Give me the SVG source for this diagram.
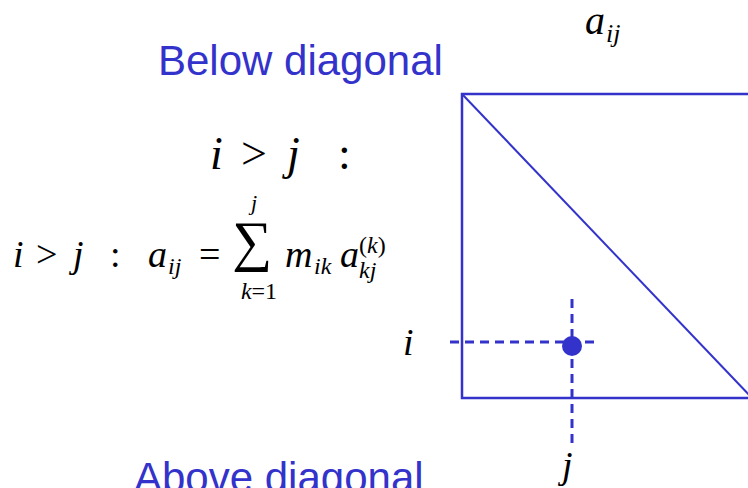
<svg xmlns="http://www.w3.org/2000/svg" width="748" height="488" viewBox="0 0 748 488">
<style>
.lbl{font-family:"Liberation Sans",Arial,sans-serif;font-size:42px;fill:#3333cc}
.m{font-family:"Liberation Serif","Times New Roman",serif;font-style:italic;fill:#000}
.r{font-family:"Liberation Serif","Times New Roman",serif;fill:#000}
.edge{stroke:#3333cc;fill:none}
.dash{stroke:#3333cc;stroke-width:3;stroke-dasharray:9,6;fill:none}
</style>
<rect width="748" height="488" fill="#fff"/>
<g id="title-below"><text class="lbl" x="158" y="75">Below diagonal</text></g>
<g id="title-above"><text class="lbl" x="134" y="492">Above diagonal</text></g>
<g id="cond">
<text class="m" x="210" y="169" font-size="46">i</text>
<text class="r" x="241" y="169" font-size="46">&gt;</text>
<text class="m" x="287" y="169" font-size="46">j</text>
<text class="r" x="338" y="169" font-size="46">:</text>
</g>
<g id="formula">
<text class="m" x="13" y="267" font-size="38">i</text>
<text class="r" x="36" y="267" font-size="38">&gt;</text>
<text class="m" x="73" y="267" font-size="38">j</text>
<text class="r" x="110" y="267" font-size="38">:</text>
<text class="m" x="148" y="267" font-size="38">a</text>
<text class="m" x="168" y="274" font-size="24">ij</text>
<text class="r" x="199" y="267" font-size="38">=</text>
<text class="r" x="252" y="260" font-size="56" text-anchor="middle">∑</text>
<text class="m" x="254" y="210" font-size="22" text-anchor="middle">j</text>
<text class="m" x="259" y="299" font-size="24" text-anchor="middle">k<tspan class="r" font-style="normal">=1</tspan></text>
<text class="m" x="285" y="267" font-size="38">m</text>
<text class="m" x="314" y="274" font-size="24">ik</text>
<text class="m" x="340" y="267" font-size="38">a</text>
<text class="m" x="359" y="278" font-size="24">kj</text>
<text class="r" x="359" y="253" font-size="24">(<tspan class="m">k</tspan>)</text>
</g>
<g id="top-aij">
<text class="m" x="585" y="34" font-size="40">a</text>
<text class="m" x="606" y="42" font-size="26">ij</text>
</g>
<g id="matrix">
<rect class="edge" x="462" y="94" width="300" height="304" stroke-width="2.5"/>
<line class="edge" x1="462" y1="94" x2="752" y2="398" stroke-width="2"/>
</g>
<g id="connectors">
<line class="dash" x1="450" y1="342" x2="598" y2="342"/>
<line class="dash" x1="572" y1="299" x2="572" y2="448"/>
</g>
<g id="point"><circle cx="572" cy="346" r="10" fill="#3333cc"/></g>
<g id="label-i"><text class="m" x="403" y="355" font-size="38">i</text></g>
<g id="label-j"><text class="m" x="562" y="478" font-size="38">j</text></g>
</svg>
